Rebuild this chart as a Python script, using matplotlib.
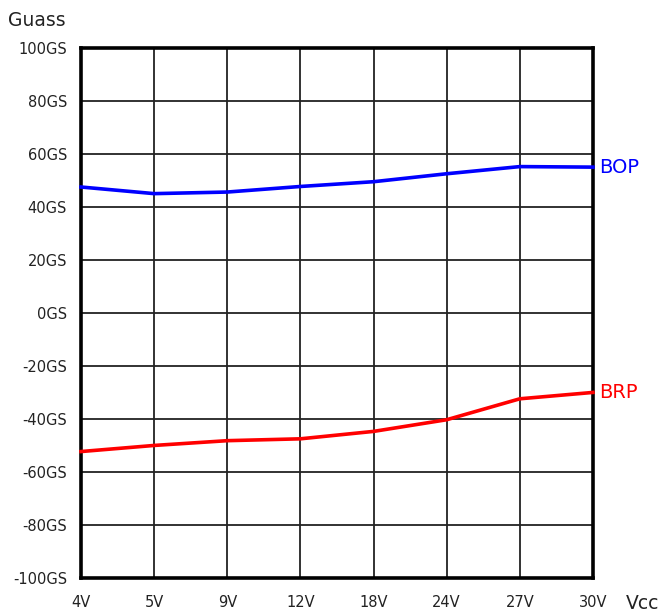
import matplotlib
matplotlib.use("Agg")
import matplotlib.pyplot as plt

# supply voltage categories
vcc_labels = ["4V", "5V", "9V", "12V", "18V", "24V", "27V", "30V"]
# operate / release points in gauss
bop = [47.5, 45.0, 45.6, 47.7, 49.5, 52.5, 55.2, 55.0]
brp = [-52.3, -50.0, -48.2, -47.5, -44.7, -40.3, -32.4, -30.0]
y_ticks = list(range(-100, 101, 20))
y_tick_labels = ["{}GS".format(v) for v in y_ticks]

def main():
    fig = plt.figure(figsize=(6.64, 6.15), dpi=100)
    ax = fig.add_axes([0.122, 0.0602, 0.771, 0.862])
    x = list(range(len(vcc_labels)))

    ax.plot(x, bop, color="#0000ff", linewidth=2.6, zorder=3, clip_on=False)
    ax.plot(x, brp, color="#ff0000", linewidth=2.6, zorder=3, clip_on=False)

    ax.set_xlim(0, len(vcc_labels) - 1)
    ax.set_ylim(-100, 100)
    ax.set_xticks(x)
    ax.set_xticklabels(vcc_labels)
    ax.set_yticks(y_ticks)
    ax.set_yticklabels(y_tick_labels)
    ax.tick_params(axis="both", length=0, labelsize=10.5, colors="#222222")
    ax.tick_params(axis="x", pad=12)
    ax.tick_params(axis="y", pad=10)

    ax.grid(True, color="#222222", linewidth=1.3)
    ax.set_axisbelow(True)
    for s in ax.spines.values():
        s.set_linewidth(2.6)
        s.set_color("black")

    # series names at the right end
    ax.text(len(vcc_labels) - 1 + 0.08, bop[-1], "BOP", color="#0000ff",
            fontsize=14, va="center", ha="left")
    ax.text(len(vcc_labels) - 1 + 0.08, brp[-1], "BRP", color="#ff0000",
            fontsize=14, va="center", ha="left")

    fig.text(0.012, 0.967, "Guass", fontsize=13.5, color="#222222",
             ha="left", va="center")
    fig.text(0.968, 0.019, "Vcc", fontsize=13.5, color="#222222",
             ha="center", va="center")

    fig.savefig("out.png", dpi=100)

if __name__ == "__main__":
    main()
